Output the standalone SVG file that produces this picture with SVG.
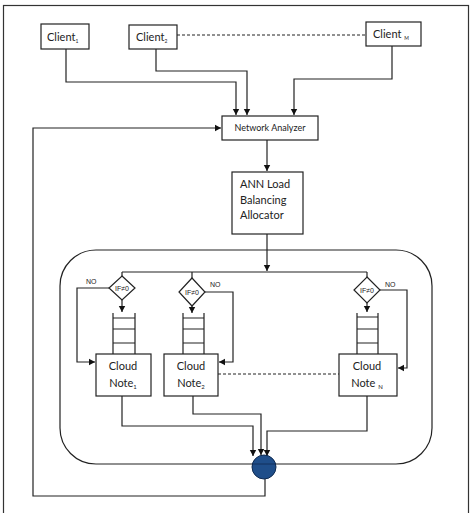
<svg xmlns="http://www.w3.org/2000/svg" width="472" height="513" viewBox="0 0 472 513">
<style>
.box{fill:#fff;stroke:#222;stroke-width:1.2}
.ln{fill:none;stroke:#222;stroke-width:1.2}
.arr{fill:none;stroke:#222;stroke-width:1.2;marker-end:url(#ah)}
.dash{fill:none;stroke:#222;stroke-width:1;stroke-dasharray:3,2}
.t{font-family:Lato,"Liberation Sans",sans-serif;fill:#222}
.s{font-family:"Liberation Sans",Arial,sans-serif;fill:#222;font-size:7px}
</style>
<defs>
<marker id="ah" markerWidth="8" markerHeight="8" refX="6" refY="4" orient="auto" markerUnits="userSpaceOnUse">
<path d="M0,0.8 L6,4 L0,7.2 Z" fill="#111"/>
</marker>
</defs>
<rect x="3.5" y="5.5" width="465" height="512" fill="none" stroke="#333" stroke-width="1.2"/>
<g id="connectors">
<path class="arr" d="M66,49 V82 H236 V115"/>
<path class="arr" d="M156,49 V71 H247 V115"/>
<path class="arr" d="M392,46 V79 H294 V115"/>
<path class="dash" d="M177,35 H366"/>
<path class="arr" d="M267,140 V171"/>
<path class="arr" d="M267,234 V271"/>
<path class="ln" d="M122,272 H367"/>
<path class="ln" d="M122,272 V276 M192,272 V278 M367,272 V277"/>
<path class="arr" d="M122,300 V312"/>
<path class="arr" d="M192,306 V313"/>
<path class="arr" d="M367,303 V312"/>
<path class="arr" d="M110,288 H77 V362 H95"/>
<path class="arr" d="M205,292 H233 V362 H219"/>
<path class="arr" d="M380,290 H407 V368 H398"/>
<path class="dash" d="M218,374 H339"/>
<path class="arr" d="M122,396 V426 H253 V456"/>
<path class="arr" d="M193,396 V414 H261 V455"/>
<path class="arr" d="M367,396 V431 H267 V456"/>
<path class="arr" d="M265,479 V496 H33 V128 H221"/>
</g>
<g id="clients">
<g id="client1"><rect class="box" x="41" y="24" width="48" height="25"/><text class="t" x="47" y="41" font-size="11">Client<tspan font-size="5" dy="2">1</tspan></text></g>
<g id="client2"><rect class="box" x="129" y="25" width="48" height="24"/><text class="t" x="136" y="41" font-size="11">Client<tspan font-size="5" dy="2">2</tspan></text></g>
<g id="clientM"><rect class="box" x="366" y="22" width="55" height="24"/><text class="t" x="373" y="38" font-size="11">Client <tspan font-size="5" dy="2">M</tspan></text></g>
</g>
<g id="network-analyzer"><rect class="box" x="222" y="116" width="96" height="24"/><text class="t" x="270" y="131" font-size="9" text-anchor="middle">Network Analyzer</text></g>
<g id="ann"><rect class="box" x="232" y="172" width="71" height="62"/>
<text class="t" font-size="11" x="240"><tspan x="240" y="188">ANN Load</tspan><tspan x="240" y="204">Balancing</tspan><tspan x="240" y="219">Allocator</tspan></text></g>
<g id="cloud-group"><rect x="60" y="250" width="372" height="214" rx="36" ry="36" fill="none" stroke="#222" stroke-width="1.2"/></g>
<g id="decision1"><path class="box" d="M122,276 L135,288 L122,300 L109,288 Z"/><text class="s" x="122" y="290.5" text-anchor="middle">IF≠0</text><text class="s" x="86" y="284">NO</text></g>
<g id="decision2"><path class="box" d="M192,278 L205,292 L192,306 L179,292 Z"/><text class="s" x="192" y="294.5" text-anchor="middle">IF≠0</text><text class="s" x="210" y="287">NO</text></g>
<g id="decisionN"><path class="box" d="M367,277 L380,290 L367,303 L354,290 Z"/><text class="s" x="367" y="292.5" text-anchor="middle">IF≠0</text><text class="s" x="385" y="287">NO</text></g>
<g id="queue1"><path class="ln" d="M113,313 V354 M135,313 V354 M113,318 H135 M113,329 H135 M113,343 H135"/></g>
<g id="queue2"><path class="ln" d="M183,313 V354 M204,313 V354 M183,318 H204 M183,329 H204 M183,343 H204"/></g>
<g id="queueN"><path class="ln" d="M357,313 V354 M378,313 V354 M357,317 H378 M357,329 H378 M357,343 H378"/></g>
<g id="cloud1"><rect class="box" x="96" y="354" width="55" height="42"/><text class="t" font-size="11" text-anchor="middle"><tspan x="123" y="370">Cloud</tspan><tspan x="123" y="387">Note<tspan font-size="6" dy="2">1</tspan></tspan></text></g>
<g id="cloud2"><rect class="box" x="164" y="354" width="54" height="42"/><text class="t" font-size="11" text-anchor="middle"><tspan x="191" y="370">Cloud</tspan><tspan x="191" y="387">Note<tspan font-size="6" dy="2">2</tspan></tspan></text></g>
<g id="cloudN"><rect class="box" x="339" y="354" width="58" height="42"/><text class="t" font-size="11" text-anchor="middle"><tspan x="367" y="370">Cloud</tspan><tspan x="367" y="387">Note <tspan font-size="6" dy="2">N</tspan></tspan></text></g>
<g id="aggregator"><ellipse cx="264" cy="467" rx="12" ry="12" fill="#1f4e8a" stroke="#0f2a50" stroke-width="1"/><path d="M252,464 H276" stroke="#0f2a50" stroke-width="0.8"/></g>
</svg>
